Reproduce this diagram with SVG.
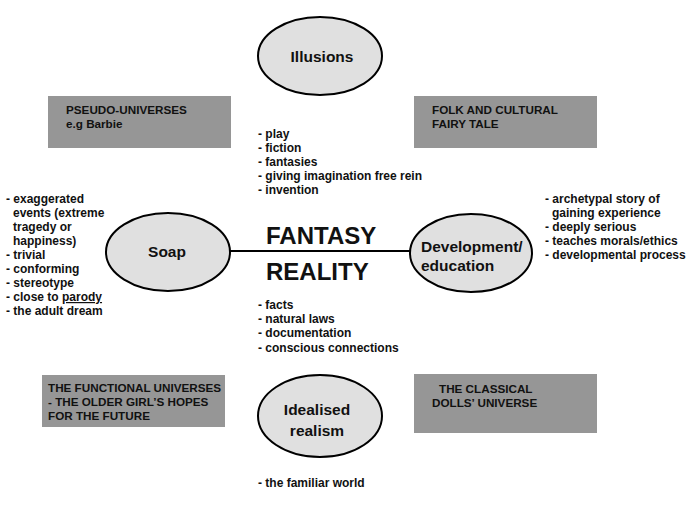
<svg xmlns="http://www.w3.org/2000/svg" width="697" height="508" viewBox="0 0 697 508">
<style>
text{font-family:"Liberation Sans",Arial,sans-serif;font-weight:bold;fill:#111}
.box{fill:#969696}
.ell{fill:#e0e0e0;stroke:#000;stroke-width:2}
.bt{font-size:11.7px}
.lt{font-size:12px}
.nt{font-size:15.5px}
.big{font-size:24px}
.con{stroke:#000;stroke-width:2;fill:none}
</style>
<rect width="697" height="508" fill="#fff"/>
<g id="connectors">
<line class="con" x1="229" y1="251" x2="410" y2="251"/>
</g>
<g id="illusions">
<ellipse class="ell" cx="320" cy="56" rx="62" ry="39"/>
<text class="nt" x="322" y="62" text-anchor="middle">Illusions</text>
</g>
<g id="illusions-list">
<text class="lt" x="258" y="138">- play</text>
<text class="lt" x="258" y="152">- fiction</text>
<text class="lt" x="258" y="166">- fantasies</text>
<text class="lt" x="258" y="180">- giving imagination free rein</text>
<text class="lt" x="258" y="194">- invention</text>
</g>
<g id="pseudo">
<rect class="box" x="48" y="96" width="183" height="52"/>
<text class="bt" x="66" y="114">PSEUDO-UNIVERSES</text>
<text class="bt" x="66" y="128">e.g Barbie</text>
</g>
<g id="folk">
<rect class="box" x="414" y="96" width="183" height="52"/>
<text class="bt" x="432" y="114">FOLK AND CULTURAL</text>
<text class="bt" x="432" y="128">FAIRY TALE</text>
</g>
<g id="soap">
<ellipse class="ell" cx="168" cy="252" rx="62" ry="39"/>
<text class="nt" x="167" y="257" text-anchor="middle">Soap</text>
</g>
<g id="soap-list">
<text class="lt" x="6" y="203">- exaggerated</text>
<text class="lt" x="13" y="217">events (extreme</text>
<text class="lt" x="13" y="231">tragedy or</text>
<text class="lt" x="13" y="245">happiness)</text>
<text class="lt" x="6" y="259">- trivial</text>
<text class="lt" x="6" y="273">- conforming</text>
<text class="lt" x="6" y="287">- stereotype</text>
<text class="lt" x="6" y="301">- close to <tspan text-decoration="underline">parody</tspan></text>
<text class="lt" x="6" y="315">- the adult dream</text>
</g>
<g id="axis">
<text class="big" x="266" y="244">FANTASY</text>
<text class="big" x="266" y="280">REALITY</text>
</g>
<g id="development">
<ellipse class="ell" cx="471" cy="253" rx="61" ry="39"/>
<text class="nt" x="421" y="252">Development/</text>
<text class="nt" x="421" y="271">education</text>
</g>
<g id="development-list">
<text class="lt" x="545" y="203">- archetypal story of</text>
<text class="lt" x="552" y="217">gaining experience</text>
<text class="lt" x="545" y="231">- deeply serious</text>
<text class="lt" x="545" y="245">- teaches morals/ethics</text>
<text class="lt" x="545" y="259">- developmental process</text>
</g>
<g id="reality-list">
<text class="lt" x="258" y="309">- facts</text>
<text class="lt" x="258" y="323">- natural laws</text>
<text class="lt" x="258" y="337">- documentation</text>
<text class="lt" x="258" y="352">- conscious connections</text>
</g>
<g id="functional">
<rect class="box" x="42" y="375" width="183" height="52"/>
<text class="bt" x="48" y="392">THE FUNCTIONAL UNIVERSES</text>
<text class="bt" x="48" y="406">- THE OLDER GIRL’S HOPES</text>
<text class="bt" x="48" y="420">FOR THE FUTURE</text>
</g>
<g id="classical">
<rect class="box" x="414" y="374" width="183" height="59"/>
<text class="bt" x="439" y="393">THE CLASSICAL</text>
<text class="bt" x="432" y="407">DOLLS’ UNIVERSE</text>
</g>
<g id="idealised">
<ellipse class="ell" cx="320" cy="416" rx="62" ry="41"/>
<text class="nt" x="317" y="415" text-anchor="middle">Idealised</text>
<text class="nt" x="317" y="436" text-anchor="middle">realism</text>
</g>
<g id="idealised-list">
<text class="lt" x="258" y="487">- the familiar world</text>
</g>
</svg>
